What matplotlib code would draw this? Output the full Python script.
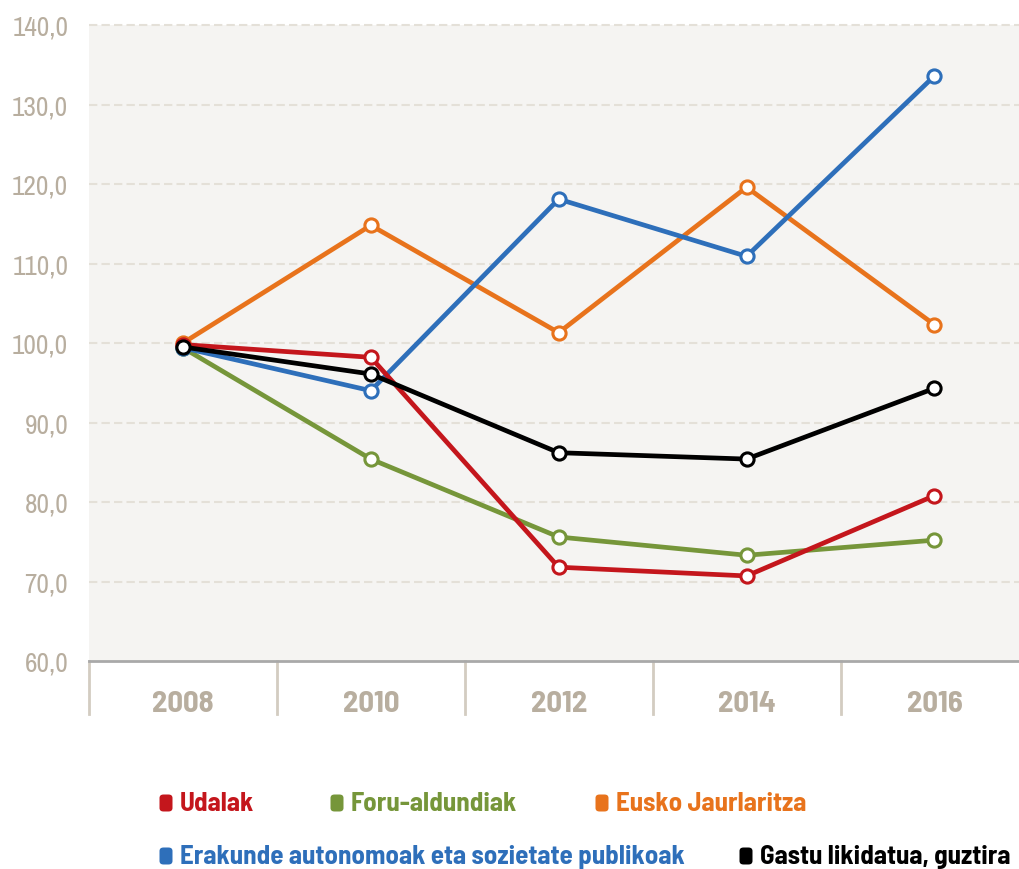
import matplotlib
matplotlib.use("Agg")
import matplotlib.pyplot as plt
from matplotlib.patches import FancyBboxPatch
import matplotlib.transforms as mtransforms

plt.rcParams['font.family'] = ['Archivo Narrow', 'DejaVu Sans']
BOLD_FAMILY = ['Barlow Semi Condensed', 'DejaVu Sans']

years = ["2008", "2010", "2012", "2014", "2016"]
yticks = [60, 70, 80, 90, 100, 110, 120, 130, 140]
ytick_labels = ["60,0", "70,0", "80,0", "90,0", "100,0", "110,0", "120,0", "130,0", "140,0"]

udalak = [99.8, 98.2, 71.8, 70.7, 80.8]
foru = [99.4, 85.4, 75.6, 73.3, 75.2]
eusko = [100.0, 114.8, 101.3, 119.6, 102.3]
erakunde = [99.4, 94.0, 118.1, 110.9, 133.6]
gastu = [99.5, 96.1, 86.2, 85.4, 94.3]

names = ["Udalak", "Foru-aldundiak", "Eusko Jaurlaritza",
         "Erakunde autonomoak eta sozietate publikoak", "Gastu likidatua, guztira"]
colors = ["#c4161c", "#76963a", "#e8731c", "#2e6fba", "#000000"]

fig = plt.figure(figsize=(10.19, 8.70), dpi=100)
renderer = fig.canvas.get_renderer()


def fit_size(text, target_px, base=20, **kw):
    t = fig.text(0, 0, text, fontsize=base, **kw)
    w = t.get_window_extent(renderer=renderer).width
    t.remove()
    return base * target_px / w


ax = fig.add_axes([89/1019, 1 - 662/870, 1 - 89/1019, (662 - 26)/870])
ax.set_facecolor("#f5f4f2")

x = list(range(len(years)))
series = [(foru, colors[1], 2), (eusko, colors[2], 3), (erakunde, colors[3], 4),
          (udalak, colors[0], 5), (gastu, colors[4], 6)]
for vals, c, z in series:
    ax.plot(x, vals, color=c, lw=3.4, marker="o", ms=9.5, mfc="white", mec=c, mew=2.2,
            zorder=z, solid_capstyle="round")

ax.set_ylim(60, 140)
ax.set_xlim(-0.5, 4.45)
ax.set_yticks(yticks)
ysize = fit_size("140,0", 56)
ax.set_yticklabels(ytick_labels, fontsize=ysize, color="#b8ae9f")
ax.set_xticks(x)
xsize = fit_size("2008", 62, fontweight="bold", family=BOLD_FAMILY)
ax.set_xticklabels(years, fontsize=xsize, fontweight="bold", color="#b8ae9f", family=BOLD_FAMILY)
ax.tick_params(axis="y", length=0, pad=15)
ax.tick_params(axis="x", length=0, pad=21)
for yv in yticks[1:]:
    ax.axhline(yv, color="#e4e0d8", lw=1.5, ls=(0, (4, 2)), zorder=1, clip_on=False)

for s in ["top", "right", "left"]:
    ax.spines[s].set_visible(False)
ax.spines["bottom"].set_color("#a9a9a9")
ax.spines["bottom"].set_linewidth(2)

trans = mtransforms.blended_transform_factory(ax.transData, ax.transAxes)
for b in [-0.5, 0.5, 1.5, 2.5, 3.5]:
    ax.plot([b, b], [0, -0.083], transform=trans, color="#d3ccc1", lw=2, clip_on=False)

# legend
lsize = fit_size(names[3], 504, fontweight="bold", family=BOLD_FAMILY)
legend_pos = [(166, 804), (337, 804), (602, 804), (166, 857), (746, 857)]
for (px, py), name, c in zip(legend_pos, names, colors):
    fx, fy = px / 1019, 1 - py / 870
    w, h = 13 / 1019, 17 / 870
    p = FancyBboxPatch((fx - w / 2, fy - h / 2), w, h,
                       boxstyle="round,pad=0,rounding_size=0.004",
                       transform=fig.transFigure, facecolor=c, edgecolor="none")
    fig.patches.append(p)
    fig.text(fx + 14 / 1019, fy, name, color=c, fontsize=lsize, fontweight="bold",
             family=BOLD_FAMILY, va="center", ha="left")

fig.savefig("out.png", dpi=100)
